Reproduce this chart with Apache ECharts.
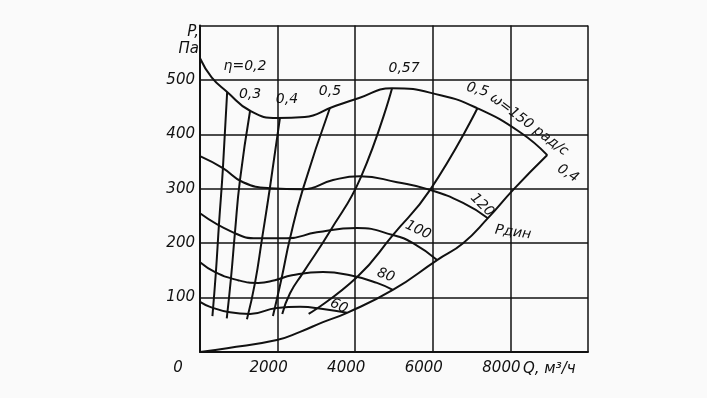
<!DOCTYPE html>
<html>
<head>
<meta charset="utf-8">
<script src="https://cdn.jsdelivr.net/npm/echarts@6/dist/echarts.min.js"></script>
<style>
html, body { margin: 0; background: #fafafa; }
#chart { width: 707px; height: 398px; }
</style>
</head>
<body>
<div id="chart"></div>
<script>
// speed curves P(Q), [Q m3/h, P Pa]
var speed150 = [[0, 540], [300, 505], [700, 478], [1300, 443], [2000, 430], [2700, 432], [3400, 450], [4100, 467], [4950, 485], [6200, 472], [7150, 448], [8250, 404], [8950, 362]]
var speed120 = [[0, 360], [590, 338], [1110, 312], [1800, 301], [2650, 299], [3430, 316], [4120, 323], [5080, 312], [5930, 298], [6780, 274], [7420, 246]]
var speed100 = [[0, 255], [850, 220], [1470, 209], [2240, 209], [3010, 220], [4050, 228], [4970, 215], [5490, 200], [6110, 169]]
var speed80 = [[0, 165], [390, 147], [980, 132], [1500, 127], [1930, 132], [2370, 141], [3170, 147], [3870, 141], [4560, 127], [4970, 114]]
var speed60 = [[0, 92], [260, 83], [770, 73], [1290, 70], [1980, 81], [2580, 83], [3170, 79], [3790, 72]]

// dynamic pressure
var pDyn = [[0, 0], [700, 7], [1980, 22], [2580, 37], [3170, 55], [3790, 72], [4970, 114], [6110, 169], [6780, 200], [7420, 246], [8070, 298], [8950, 362]]

// constant efficiency lines
var eta02 = [[700, 478], [590, 337], [490, 236], [410, 147], [320, 66]]
var eta03 = [[1290, 443], [1030, 316], [900, 219], [800, 137], [690, 62]]
var eta04 = [[2060, 430], [1800, 301], [1600, 209], [1420, 128], [1210, 60]]
var eta05a = [[3350, 449], [2650, 299], [2320, 209], [2110, 138], [1880, 66]]
var eta057 = [[4950, 485], [4150, 322], [3350, 222], [2650, 145], [2320, 108], [2120, 70]]
var eta05b = [[7150, 448], [5930, 298], [4970, 215], [4050, 138], [2800, 70]]

// text on the field: [text, Q, P, angle]
var notes = [
    ['η=0,2', 1160, 525, 0],
    ['0,3', 1290, 474, 0],
    ['0,4', 2240, 465, 0],
    ['0,5', 3350, 479, 0],
    ['0,57', 5260, 522, 0],
    ['0,5', 7150, 482, -15],
    ['ω=150 рад/с', 8480, 418, -37],
    ['0,4', 9480, 328, -32],
    ['120', 7270, 270, -45],
    ['100', 5620, 224, -25],
    ['80', 4790, 141, -20],
    ['60', 3580, 84, -25],
    ['Pдин', 8070, 220, -8]
]

var INK = '#111'
var FONT = 'DejaVu Sans'

var allLines = [speed150, speed120, speed100, speed80, speed60, pDyn,
    eta02, eta03, eta04, eta05a, eta057, eta05b]

var series = allLines.map(function (d) {
    return {
        type: 'line',
        data: d,
        smooth: true,
        showSymbol: false,
        silent: true,
        lineStyle: { color: INK, width: 2 }
    }
})

var chart = echarts.init(document.getElementById('chart'))
chart.setOption({
    animation: false,
    backgroundColor: '#fafafa',
    grid: { left: 200, top: 25.6, right: 119, bottom: 46 },
    xAxis: {
        type: 'value', min: 0, max: 10000, interval: 2000,
        axisLine: { lineStyle: { color: INK, width: 2 } },
        axisTick: { show: false },
        splitLine: { lineStyle: { color: INK, width: 1.5 } },
        axisLabel: {
            formatter: function (v) { return (v === 0 || v === 10000) ? '' : String(v) },
            color: INK, fontFamily: FONT, fontStyle: 'italic', fontSize: 15,
            margin: 9, padding: [0, 18, 0, 0]
        }
    },
    yAxis: {
        type: 'value', min: 0, max: 600, interval: 100,
        axisLine: { lineStyle: { color: INK, width: 2 } },
        axisTick: { show: false },
        splitLine: { lineStyle: { color: INK, width: 1.5 } },
        axisLabel: {
            formatter: function (v) { return (v === 0 || v === 600) ? '' : String(v) },
            color: INK, fontFamily: FONT, fontStyle: 'italic', fontSize: 15,
            margin: 5
        }
    },
    series: series
})

var graphics = notes.map(function (n) {
    var p = chart.convertToPixel({ gridIndex: 0 }, [n[1], n[2]])
    return {
        type: 'text', x: p[0], y: p[1], rotation: n[3] * Math.PI / 180,
        style: { text: n[0], font: 'italic 14px ' + FONT, fill: INK, align: 'center', verticalAlign: 'middle' }
    }
})
// axis names and the origin zero
var origin = chart.convertToPixel({ gridIndex: 0 }, [0, 0])
graphics.push({ type: 'text', x: origin[0] - 22, y: origin[1] + 16,
    style: { text: '0', font: 'italic 15px ' + FONT, fill: INK, align: 'center', verticalAlign: 'middle' } })
graphics.push({ type: 'text', x: origin[0] - 1, y: 32,
    style: { text: 'P,', font: 'italic 15px ' + FONT, fill: INK, align: 'right', verticalAlign: 'middle' } })
graphics.push({ type: 'text', x: origin[0] - 1, y: 49,
    style: { text: 'Па', font: 'italic 15px ' + FONT, fill: INK, align: 'right', verticalAlign: 'middle' } })
graphics.push({ type: 'text', x: 523, y: origin[1] + 17,
    style: { text: 'Q, м³/ч', font: 'italic 15px ' + FONT, fill: INK, align: 'left', verticalAlign: 'middle' } })
chart.setOption({ graphic: graphics })
</script>
</body>
</html>
